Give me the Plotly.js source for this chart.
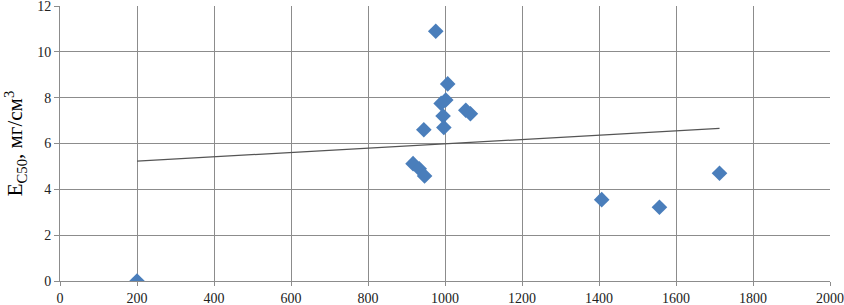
<!DOCTYPE html>
<html>
<head>
<meta charset="utf-8">
<script src="https://cdn.plot.ly/plotly-3.0.1.min.js"></script>
<style>html,body{margin:0;padding:0;background:#fff;}#chart{width:844px;height:305px;}</style>
</head>
<body>
<div id="chart"></div>
<script>
// Data points
const xValues = [200, 976, 1007, 1002, 990, 995, 997, 945, 1054, 1066, 917, 933, 947, 1407, 1557, 1713];
const yValues = [0, 10.9, 8.6, 7.9, 7.75, 7.2, 6.7, 6.6, 7.45, 7.3, 5.12, 4.9, 4.58, 3.55, 3.22, 4.7];
// Linear trend line endpoints
const trendX = [200, 1713];
const trendY = [5.23, 6.66];
const xTicks = [0, 200, 400, 600, 800, 1000, 1200, 1400, 1600, 1800, 2000];
const yTicks = [0, 2, 4, 6, 8, 10, 12];

const serif = 'Liberation Serif';
const data = [
  {x: xValues, y: yValues, type: 'scatter', mode: 'markers',
   marker: {symbol: 'diamond', size: 12, color: '#4a7ebb', line: {width: 0}}},
  {x: trendX, y: trendY, type: 'scatter', mode: 'lines',
   line: {color: '#555555', width: 1.2}}
];
const layout = {
  width: 844, height: 305,
  margin: {l: 60, r: 14, t: 6, b: 24},
  showlegend: false,
  paper_bgcolor: '#fff', plot_bgcolor: '#fff',
  font: {family: serif, size: 14, color: '#222'},
  xaxis: {range: [0, 2000], tickvals: xTicks, ticktext: xTicks.map(String),
    tickfont: {family: serif, size: 14, color: '#222'}, ticklabeloverflow: 'allow',
    showgrid: true, gridcolor: '#8c8c8c', gridwidth: 1, zeroline: false,
    showline: true, linecolor: '#8c8c8c', mirror: false,
    ticks: 'outside', ticklen: 4, tickcolor: '#8c8c8c', automargin: false},
  yaxis: {range: [0, 12], tickvals: yTicks, ticktext: yTicks.map(String),
    tickfont: {family: serif, size: 14, color: '#222'}, ticklabeloverflow: 'allow',
    showgrid: true, gridcolor: '#8c8c8c', gridwidth: 1, zeroline: false,
    showline: true, linecolor: '#8c8c8c',
    ticks: 'outside', ticklen: 5, tickcolor: '#8c8c8c', automargin: false,
    title: {text: 'E<sub>C50</sub>, мг/см<sup>3</sup>', font: {family: serif, size: 21, color: '#000'}, standoff: 8}}
};
Plotly.newPlot('chart', data, layout, {displayModeBar: false, staticPlot: true});
</script>
</body>
</html>
